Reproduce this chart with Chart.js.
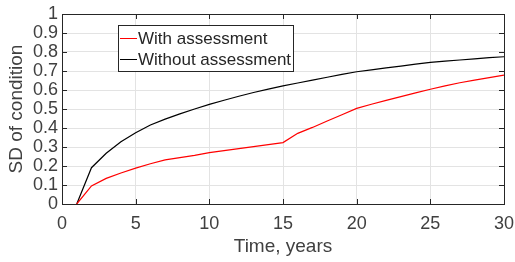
<!DOCTYPE html>
<html>
<head>
<meta charset="utf-8">
<script src="https://cdn.jsdelivr.net/npm/chart.js@4"></script>
<style>
  html, body { margin: 0; padding: 0; background: #fff; }
  #wrap { width: 515px; height: 262px; }
</style>
</head>
<body>
<div id="wrap"><canvas id="chart" width="515" height="262"></canvas></div>
<script>
const years = [1, 2, 3, 4, 5, 6, 7, 8, 9, 10, 11, 12, 13, 14, 15, 16, 17, 18, 19, 20, 21, 22, 23, 24, 25, 26, 27, 28, 29, 30];
const withAssessment = [0, 0.095, 0.135, 0.163, 0.189, 0.212, 0.232, 0.244, 0.256, 0.27, 0.281, 0.291, 0.302, 0.312, 0.323, 0.372, 0.403, 0.437, 0.47, 0.503, 0.525, 0.545, 0.565, 0.585, 0.604, 0.622, 0.638, 0.652, 0.665, 0.678];
const withoutAssessment = [0, 0.191, 0.267, 0.328, 0.375, 0.416, 0.447, 0.474, 0.5, 0.524, 0.546, 0.567, 0.587, 0.605, 0.622, 0.637, 0.652, 0.667, 0.682, 0.696, 0.706, 0.716, 0.726, 0.736, 0.745, 0.752, 0.758, 0.764, 0.77, 0.775];
const xTicks = [0, 5, 10, 15, 20, 25, 30];
const yTicks = [0, 0.1, 0.2, 0.3, 0.4, 0.5, 0.6, 0.7, 0.8, 0.9, 1];

const textColor = '#404040';
const fontFamily = '"Liberation Sans", Arial, sans-serif';

const toPoints = (ys) => years.map((x, i) => ({ x: x, y: ys[i] }));

// box round the plot and inward tick marks, matlab style
const framePlugin = {
    id: 'frame',
    afterDatasetsDraw: (chart) => {
        const { ctx, chartArea: a, scales } = chart;
        ctx.save();
        ctx.strokeStyle = '#262626';
        ctx.lineWidth = 1;
        ctx.beginPath();
        xTicks.forEach(v => {
            const px = Math.round(scales.x.getPixelForValue(v)) + 0.5;
            ctx.moveTo(px, a.bottom); ctx.lineTo(px, a.bottom - 5);
            ctx.moveTo(px, a.top); ctx.lineTo(px, a.top + 5);
        });
        yTicks.forEach(v => {
            const py = Math.round(scales.y.getPixelForValue(v)) + 0.5;
            ctx.moveTo(a.left, py); ctx.lineTo(a.left + 5, py);
            ctx.moveTo(a.right, py); ctx.lineTo(a.right - 5, py);
        });
        ctx.stroke();
        ctx.strokeRect(Math.round(a.left) + 0.5, Math.round(a.top) + 0.5,
            Math.round(a.right - a.left), Math.round(a.bottom - a.top));
        ctx.restore();
    }
};

// legend box inside the plot
const legendPlugin = {
    id: 'boxLegend',
    afterDraw: (chart) => {
        const { ctx } = chart;
        const x = 118, y = 25, w = 175, h = 46;
        ctx.save();
        ctx.fillStyle = '#fff';
        ctx.fillRect(x, y, w, h);
        ctx.strokeStyle = '#262626';
        ctx.lineWidth = 1;
        ctx.strokeRect(x + 0.5, y + 0.5, w, h);
        ctx.font = '17px ' + fontFamily;
        ctx.textBaseline = 'middle';
        chart.data.datasets.forEach((ds, i) => {
            const ly = y + 13 + i * 21;
            ctx.strokeStyle = ds.borderColor;
            ctx.lineWidth = 1;
            ctx.beginPath();
            ctx.moveTo(x + 2, ly + 0.5); ctx.lineTo(x + 19, ly + 0.5);
            ctx.stroke();
            ctx.fillStyle = '#262626';
            ctx.fillText(ds.label, x + 20, ly + 1);
        });
        ctx.restore();
    }
};

new Chart(document.getElementById('chart').getContext('2d'), {
    type: 'line',
    data: {
        datasets: [{
            label: 'With assessment',
            data: toPoints(withAssessment),
            borderColor: '#ff0000',
            borderWidth: 1.2,
            pointRadius: 0,
            tension: 0
        }, {
            label: 'Without assessment',
            data: toPoints(withoutAssessment),
            borderColor: '#000000',
            borderWidth: 1.2,
            pointRadius: 0,
            tension: 0
        }]
    },
    options: {
        responsive: false,
        animation: false,
        layout: { padding: { top: 14, right: 11, left: 0, bottom: 0 } },
        plugins: {
            legend: { display: false },
            tooltip: { enabled: false }
        },
        scales: {
            x: {
                type: 'linear',
                min: 0,
                max: 30,
                afterBuildTicks: (scale) => { scale.ticks = xTicks.map(v => ({ value: v })); },
                afterFit: (scale) => {
                    scale.height = 58;
                    scale.paddingLeft = 0;
                    scale.paddingRight = 0;
                },
                grid: { color: '#e3e3e3', drawTicks: false },
                border: { display: false },
                ticks: {
                    color: textColor,
                    padding: 9,
                    maxRotation: 0,
                    font: { family: fontFamily, size: 18 }
                },
                title: {
                    display: true,
                    text: 'Time, years',
                    color: textColor,
                    padding: { top: 3 },
                    font: { family: fontFamily, size: 19 }
                }
            },
            y: {
                min: 0,
                max: 1,
                afterBuildTicks: (scale) => { scale.ticks = yTicks.map(v => ({ value: v })); },
                afterFit: (scale) => {
                    scale.width = 62;
                    scale.paddingTop = 0;
                    scale.paddingBottom = 0;
                },
                grid: { color: '#e3e3e3', drawTicks: false },
                border: { display: false },
                ticks: {
                    color: textColor,
                    padding: 4,
                    autoSkip: false,
                    callback: (v) => String(Math.round(v * 10) / 10),
                    font: { family: fontFamily, size: 18 }
                },
                title: {
                    display: true,
                    text: 'SD of condition',
                    color: textColor,
                    padding: { top: 5, bottom: 0 },
                    font: { family: fontFamily, size: 19 }
                }
            }
        }
    },
    plugins: [framePlugin, legendPlugin]
});
</script>
</body>
</html>
